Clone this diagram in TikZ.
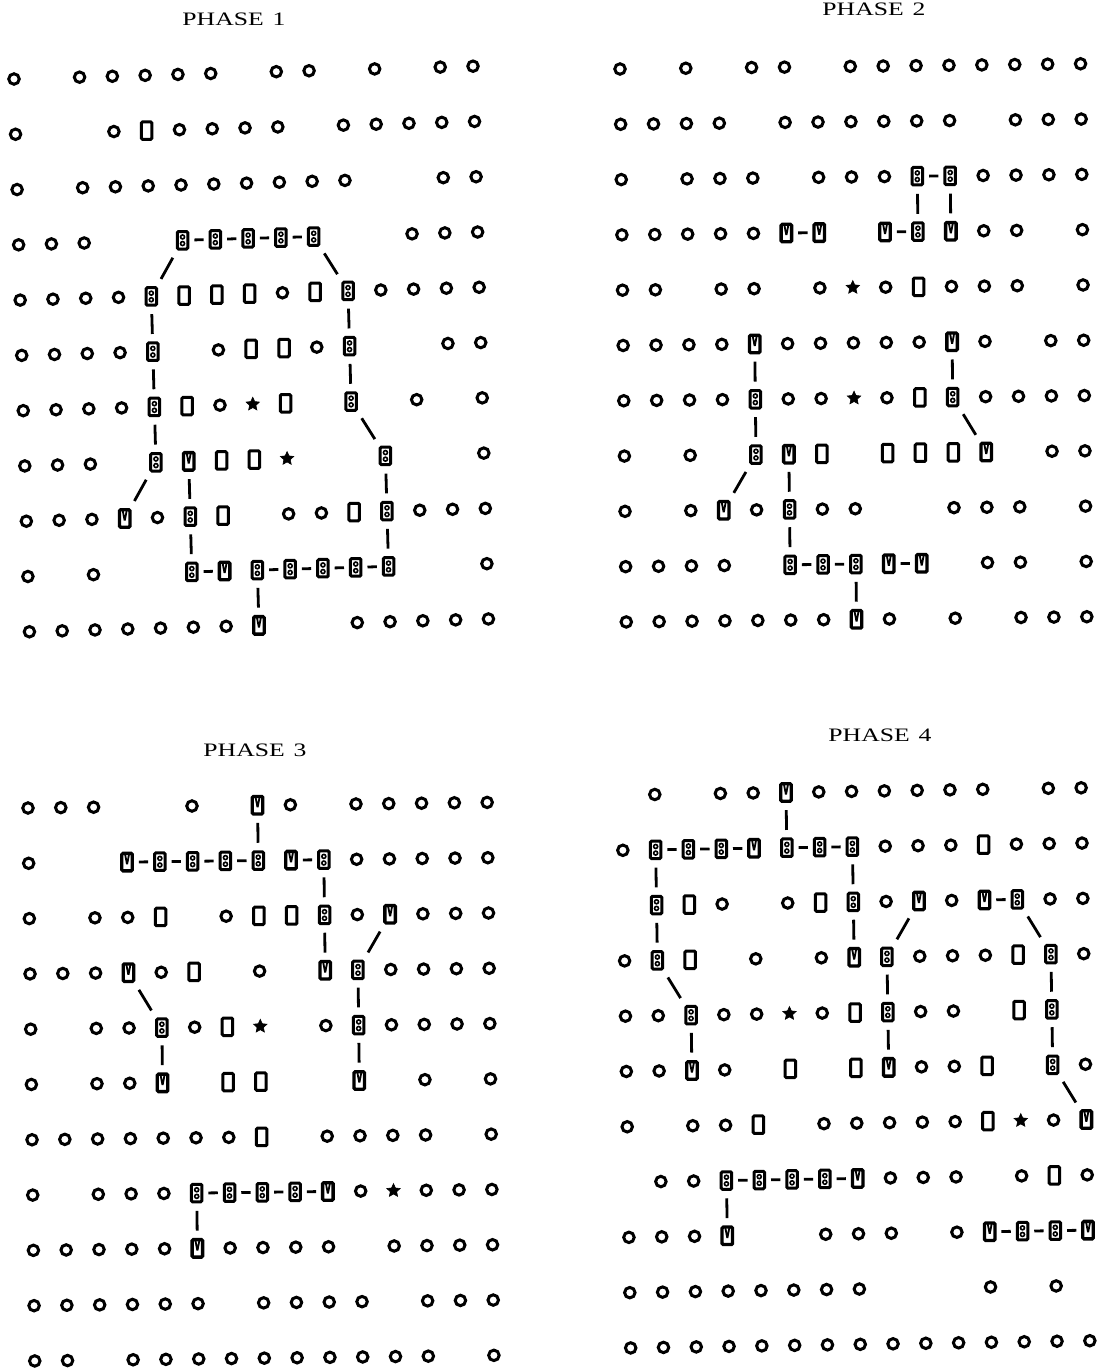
\documentclass[tikz,border=0pt]{standalone}
\usepackage{fontspec}
\setmainfont{Liberation Serif}
\usetikzlibrary{shapes.geometric}

\tikzset{
  glyph/.style={draw, line width=3pt, inner sep=0pt, outer sep=0pt},
  g-o/.style={glyph, circle, minimum size=10.5pt},
  g-r/.style={glyph, rectangle, rounded corners=1.2pt, minimum width=10.5pt, minimum height=17.5pt},
  g-b/.style={g-r, path picture={
      \draw[line width=1.6pt] ([yshift=3.3pt]path picture bounding box.center) circle (2pt);
      \draw[line width=1.6pt] ([yshift=-3.3pt]path picture bounding box.center) circle (2pt);}},
  g-u/.style={g-r, line width=3.3pt, path picture={
      \draw[line width=1.8pt] ([shift={(-2pt,8pt)}]path picture bounding box.center)
        -- ([shift={(0pt,-2.5pt)}]path picture bounding box.center)
        -- ([shift={(2pt,8pt)}]path picture bounding box.center);}},
  g-s/.style={star, star points=5, star point ratio=2.1, fill, draw, line width=0.6pt, inner sep=0pt, minimum size=14pt},
  g-n/.style={coordinate},
  hbar/.style={line width=2.8pt, shorten <=6.5pt, shorten >=6.5pt},
  vbar/.style={line width=2.8pt, shorten <=9pt, shorten >=9pt},
  slant/.style={line width=2.8pt, shorten <=10pt, shorten >=10pt},
  title/.style={font=\fontsize{19}{22}\selectfont, inner sep=0pt}
}

\begin{document}
\begin{tikzpicture}[x=1pt, y=-1pt]
  \useasboundingbox (0,0) rectangle (1116,1371);

  % Phase 1
  \node[title] (title1) at (234,19) {\scalebox{1.35}[1]{PHASE\hspace{0.35em}1}};
  \begin{scope}[shift={(14,79)}, rotate=1.6]
    \foreach \cells [count=\row] in {
      {o,n,o,o,o,o,o,n,o,o,n,o,n,o,o},
      {o,n,n,o,r,o,o,o,o,n,o,o,o,o,o},
      {o,n,o,o,o,o,o,o,o,o,o,n,n,o,o},
      {o,o,o,n,n,b,b,b,b,b,n,n,o,o,o},
      {o,o,o,o,b,r,r,r,o,r,b,o,o,o,o},
      {o,o,o,o,b,n,o,r,r,o,b,n,n,o,o},
      {o,o,o,o,b,r,o,s,r,n,b,n,o,n,o},
      {o,o,o,n,b,u,r,r,s,n,n,b,n,n,o},
      {o,o,o,u,o,b,r,n,o,o,r,b,o,o,o},
      {o,n,o,n,n,b,u,b,b,b,b,b,n,n,o},
      {o,o,o,o,o,o,o,u,n,n,o,o,o,o,o}}{
      \foreach \t [count=\col from 0] in \cells
        \node[g-\t] (p1-\row-\col) at (\col*32.8, \row*55.3-55.3) {};
    }
  \end{scope}
  \foreach \a/\b in {4-5/4-6, 4-6/4-7, 4-7/4-8, 4-8/4-9, 10-5/10-6,
                     10-7/10-8, 10-8/10-9, 10-9/10-10, 10-10/10-11}
    \draw[hbar] (p1-\a) -- (p1-\b);
  \foreach \a/\b in {5-4/6-4, 6-4/7-4, 7-4/8-4, 5-10/6-10, 6-10/7-10,
                     8-5/9-5, 9-5/10-5, 8-11/9-11, 9-11/10-11, 10-7/11-7}
    \draw[vbar] (p1-\a) -- (p1-\b);
  \foreach \a/\b in {4-5/5-4, 4-9/5-10, 7-10/8-11, 8-4/9-3}
    \draw[slant] (p1-\a) -- (p1-\b);

  % Phase 2
  \node[title] (title2) at (874,9) {\scalebox{1.35}[1]{PHASE\hspace{0.35em}2}};
  \begin{scope}[shift={(620,69)}, rotate=0.65]
    \foreach \cells [count=\row] in {
      {o,n,o,n,o,o,n,o,o,o,o,o,o,o,o},
      {o,o,o,o,n,o,o,o,o,o,o,n,o,o,o},
      {o,n,o,o,o,n,o,o,o,b,b,o,o,o,o},
      {o,o,o,o,o,u,u,n,u,b,u,o,o,n,o},
      {o,o,n,o,o,n,o,s,o,r,o,o,o,n,o},
      {o,o,o,o,u,o,o,o,o,o,u,o,n,o,o},
      {o,o,o,o,b,o,o,s,o,r,b,o,o,o,o},
      {o,n,o,n,b,u,r,n,r,r,r,u,n,o,o},
      {o,n,o,u,o,b,o,o,n,n,o,o,o,n,o},
      {o,o,o,o,n,b,b,b,u,u,n,o,o,n,o},
      {o,o,o,o,o,o,o,u,o,n,o,n,o,o,o}}{
      \foreach \t [count=\col from 0] in \cells
        \node[g-\t] (p2-\row-\col) at (\col*32.9, \row*55.3-55.3) {};
    }
  \end{scope}
  \foreach \a/\b in {3-9/3-10, 4-5/4-6, 4-8/4-9, 10-5/10-6, 10-6/10-7, 10-8/10-9}
    \draw[hbar] (p2-\a) -- (p2-\b);
  \foreach \a/\b in {3-9/4-9, 3-10/4-10, 6-4/7-4, 7-4/8-4, 6-10/7-10,
                     8-5/9-5, 9-5/10-5, 10-7/11-7}
    \draw[vbar] (p2-\a) -- (p2-\b);
  \foreach \a/\b in {7-10/8-11, 8-4/9-3}
    \draw[slant] (p2-\a) -- (p2-\b);

  % Phase 3
  \node[title] (title3) at (255,750) {\scalebox{1.35}[1]{PHASE\hspace{0.35em}3}};
  \begin{scope}[shift={(28,808)}, rotate=0.7]
    \foreach \cells [count=\row] in {
      {o,o,o,n,n,o,n,u,o,n,o,o,o,o,o},
      {o,n,n,u,b,b,b,b,u,b,o,o,o,o,o},
      {o,n,o,o,r,n,o,r,r,b,o,u,o,o,o},
      {o,o,o,u,o,r,n,o,n,u,b,o,o,o,o},
      {o,n,o,o,b,o,r,s,n,o,b,o,o,o,o},
      {o,n,o,o,u,n,r,r,n,n,u,n,o,n,o},
      {o,o,o,o,o,o,o,r,n,o,o,o,o,n,o},
      {o,n,o,o,o,b,b,b,b,u,o,s,o,o,o},
      {o,o,o,o,o,u,o,o,o,o,n,o,o,o,o},
      {o,o,o,o,o,o,n,o,o,o,o,n,o,o,o},
      {o,o,n,o,o,o,o,o,o,o,o,o,o,n,o}}{
      \foreach \t [count=\col from 0] in \cells
        \node[g-\t] (p3-\row-\col) at (\col*32.8, \row*55.3-55.3) {};
    }
  \end{scope}
  \foreach \a/\b in {2-3/2-4, 2-4/2-5, 2-5/2-6, 2-6/2-7, 2-8/2-9,
                     8-5/8-6, 8-6/8-7, 8-7/8-8, 8-8/8-9}
    \draw[hbar] (p3-\a) -- (p3-\b);
  \foreach \a/\b in {1-7/2-7, 2-9/3-9, 3-9/4-9, 4-10/5-10, 5-10/6-10,
                     5-4/6-4, 8-5/9-5}
    \draw[vbar] (p3-\a) -- (p3-\b);
  \foreach \a/\b in {3-11/4-10, 4-3/5-4}
    \draw[slant] (p3-\a) -- (p3-\b);

  % Phase 4
  \node[title] (title4) at (880,735) {\scalebox{1.35}[1]{PHASE\hspace{0.35em}4}};
  \begin{scope}[shift={(622,795)}, rotate=0.9]
    \foreach \cells [count=\row] in {
      {n,o,n,o,o,u,o,o,o,o,o,o,n,o,o},
      {o,b,b,b,u,b,b,b,o,o,o,r,o,o,o},
      {n,b,r,o,n,o,r,b,o,u,o,u,b,o,o},
      {o,b,r,n,o,n,o,u,b,o,o,o,r,b,o},
      {o,o,b,o,o,s,o,r,b,o,o,n,r,b,n},
      {o,o,u,o,n,r,n,r,u,o,o,r,n,b,o},
      {o,n,o,o,r,n,o,o,o,o,o,r,s,o,u},
      {n,o,o,b,b,b,b,u,o,o,o,n,o,r,o},
      {o,o,o,u,n,n,o,o,o,n,o,u,b,b,u},
      {o,o,o,o,o,o,o,o,n,n,n,o,n,o,n},
      {o,o,o,o,o,o,o,o,o,o,o,o,o,o,o}}{
      \foreach \t [count=\col from 0] in \cells
        \node[g-\t] (p4-\row-\col) at (\col*32.8, \row*55.3-55.3) {};
    }
  \end{scope}
  \foreach \a/\b in {2-1/2-2, 2-2/2-3, 2-3/2-4, 2-5/2-6, 2-6/2-7, 3-11/3-12,
                     8-3/8-4, 8-4/8-5, 8-5/8-6, 8-6/8-7, 9-11/9-12, 9-12/9-13, 9-13/9-14}
    \draw[hbar] (p4-\a) -- (p4-\b);
  \foreach \a/\b in {1-5/2-5, 2-1/3-1, 3-1/4-1, 2-7/3-7, 3-7/4-7, 4-8/5-8, 5-8/6-8,
                     4-13/5-13, 5-13/6-13, 5-2/6-2, 8-3/9-3}
    \draw[vbar] (p4-\a) -- (p4-\b);
  \foreach \a/\b in {3-9/4-8, 3-12/4-13, 4-1/5-2, 6-13/7-14}
    \draw[slant] (p4-\a) -- (p4-\b);
\end{tikzpicture}
\end{document}
